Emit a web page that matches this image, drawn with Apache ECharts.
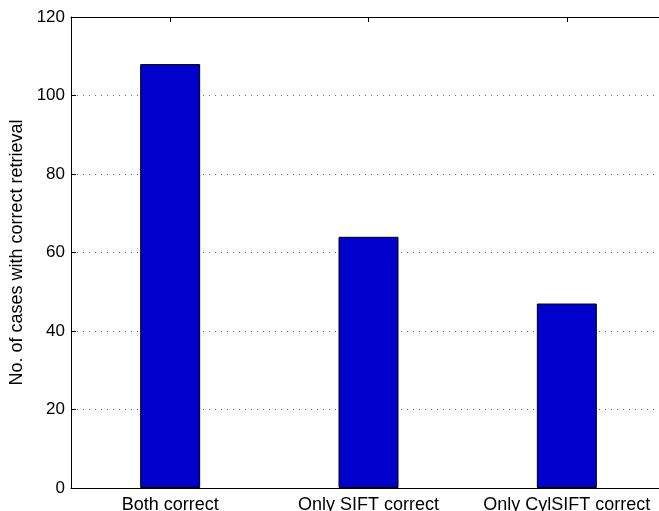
<!DOCTYPE html>
<html>
<head>
<meta charset="utf-8">
<script src="https://cdn.jsdelivr.net/npm/echarts@6/dist/echarts.min.js"></script>
<style>
  html, body { margin: 0; padding: 0; background: #fff; }
  #chart { width: 659px; height: 511px; }
</style>
</head>
<body>
<div id="chart"></div>
<script>
const categories = ['Both correct', 'Only SIFT correct', 'Only CylSIFT correct']
const counts = [108, 64, 47]
const yTicks = { min: 0, max: 120, interval: 20 }

const font = 'Liberation Sans, Arial, Helvetica, sans-serif'
const instance = echarts.init(document.getElementById('chart'))

// the plot box runs a bit past the right edge of the picture, like the original
const option = {
  animation: false,
  grid: {
    left: 71,
    top: 17,
    width: 595,
    height: 471,
    outerBoundsMode: 'none'
  },
  xAxis: [{
    type: 'category',
    data: categories,
    position: 'bottom',
    axisLine: { lineStyle: { color: '#000', width: 1 } },
    axisTick: { show: true, inside: true, alignWithLabel: true, length: 5, lineStyle: { color: '#000' } },
    axisLabel: { color: '#000', fontFamily: font, fontSize: 18, margin: 8, interval: 0 }
  }, {
    type: 'category',
    data: categories,
    position: 'top',
    axisLine: { lineStyle: { color: '#000', width: 1 } },
    axisTick: { show: true, inside: true, alignWithLabel: true, length: 5, lineStyle: { color: '#000' } },
    axisLabel: { show: false }
  }],
  yAxis: [{
    type: 'value',
    min: yTicks.min,
    max: yTicks.max,
    interval: yTicks.interval,
    name: 'No. of cases with correct retrieval',
    nameLocation: 'middle',
    nameGap: 41,
    nameTextStyle: { color: '#000', fontFamily: font, fontSize: 18 },
    axisLine: { show: true, lineStyle: { color: '#000', width: 1 } },
    axisTick: { show: true, inside: true, length: 5, lineStyle: { color: '#000' } },
    axisLabel: { color: '#000', fontFamily: font, fontSize: 17, margin: 6 },
    splitLine: { show: true, lineStyle: { color: '#666', type: [1, 5], width: 1 } }
  }],
  series: [
    {
      type: 'bar',
      data: counts,
      barWidth: 60,
      itemStyle: {
        color: '#0000CC',
        borderColor: '#000',
        borderWidth: 1
      }
    }
  ]
}
instance.setOption(option)
</script>
</body>
</html>
